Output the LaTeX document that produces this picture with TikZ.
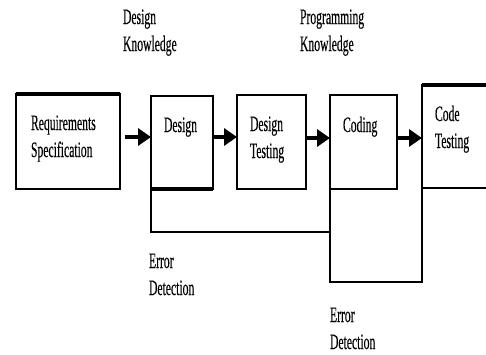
\documentclass[tikz,border=0pt]{standalone}
\usepackage{fontspec}
\setmainfont{Liberation Serif}
\newfontfamily\lblfont{Liberation Serif}[FakeBold=0.4]
\usepackage{graphicx}
\usetikzlibrary{arrows.meta}
\newcommand\lbltext[1]{\scalebox{0.53}[1]{\lblfont\fontsize{22}{27}\selectfont\begin{tabular}[t]{@{}l@{}}#1\end{tabular}}}
\begin{document}
\begin{tikzpicture}[x=1pt,y=-1pt,
  box/.style={draw, line width=2pt, inner sep=0pt, outer sep=0pt, anchor=north west},
  lbl/.style={inner sep=0pt, outer sep=0pt, anchor=base west},
  arr/.style={line width=4pt, -{Triangle[length=13pt,width=17pt]}},
  fb/.style={line width=2pt}]
\useasboundingbox (0,0) rectangle (486,354);
\clip (0,0) rectangle (486,354);
% boxes
\node[box, minimum width=104pt, minimum height=95pt] (req) at (16,94) {};
\node[box, minimum width=62pt, minimum height=93pt] (design) at (151,96) {};
\node[box, minimum width=69pt, minimum height=94pt] (dtest) at (237,95) {};
\node[box, minimum width=67pt, minimum height=94pt] (coding) at (330,95) {};
\node[box, minimum width=75pt, minimum height=103pt] (ctest) at (422,85) {};
% heavier edges
\draw[line width=3.5pt] (req.north west) -- (req.north east);
\draw[line width=3.5pt] (design.south west) -- (design.south east);
\draw[line width=4pt] (ctest.north west) -- (ctest.north east);
% texts
\node[lbl] (dk) at (123,24) {\lbltext{Design\\Knowledge}};
\node[lbl] (pk) at (300,24) {\lbltext{Programming\\Knowledge}};
\node[lbl] (reqt) at (31,130) {\lbltext{Requirements\\Specification}};
\node[lbl] (dt) at (164,132) {\lbltext{Design}};
\node[lbl] (dtt) at (250,131) {\lbltext{Design\\Testing}};
\node[lbl] (ct) at (343,132) {\lbltext{Coding}};
\node[lbl] (ctt) at (435,121) {\lbltext{Code\\Testing}};
\node[lbl] (ed1) at (149,268) {\lbltext{Error\\Detection}};
\node[lbl] (ed2) at (330,322) {\lbltext{Error\\Detection}};
% arrows
\coordinate (ra) at (0,137);
\coordinate (rb) at (0,138);
\draw[arr] ([xshift=5pt]req.east |- ra) -- (design.west |- ra);
\draw[arr] (design.east |- ra) -- (dtest.west |- ra);
\draw[arr] (dtest.east |- rb) -- (coding.west |- rb);
\draw[arr] (coding.east |- rb) -- (ctest.west |- rb);
% feedback
\coordinate (f1) at (0,232);
\coordinate (f2) at (0,282);
\draw[fb] (design.south west) |- (coding.south west |- f1);
\draw[fb] (coding.south west) |- (ctest.south west |- f2) -- (ctest.south west);
\end{tikzpicture}
\end{document}
